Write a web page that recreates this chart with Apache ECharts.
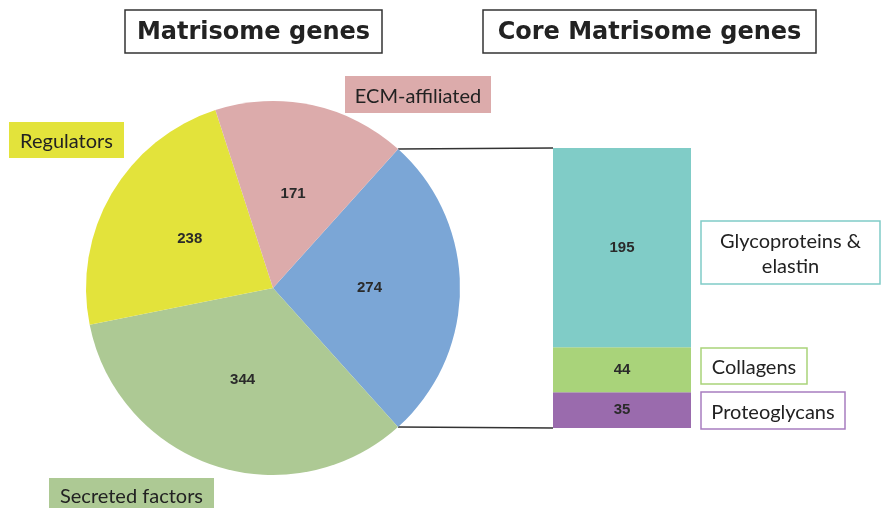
<!DOCTYPE html>
<html><head><meta charset="utf-8">
<script src="https://cdn.jsdelivr.net/npm/echarts@6/dist/echarts.min.js"></script>
<style>html,body{margin:0;padding:0;background:#fff}#c{width:881px;height:508px}</style>
</head><body><div id="c"></div>
<script>
// ---- data ----
const pieNames = ['Core matrisome', 'Secreted factors', 'Regulators', 'ECM-affiliated'];
const pieValues = [274, 344, 238, 171];
const barNames = ['Proteoglycans', 'Collagens', 'Glycoproteins & elastin'];
const barValues = [35, 44, 195];
const titles = ['Matrisome genes', 'Core Matrisome genes'];

// ---- styles ----
const pieColors = ['#7BA6D6', '#ADC994', '#E3E33B', '#DCABAB'];
const barColors = ['#9A6BAD', '#A9D37A', '#80CCC7'];
const barBorders = ['#A87DC0', '#A9D37A', '#80CCC7'];
const pieCenter = [273, 288], pieR = 187, startAngle = 48;
const gridL = 553, gridW = 138, gridTop = 148, gridBottom = 80;
const labelFont = 'Lato, "Open Sans", sans-serif';
const numFont = '"Liberation Sans", Arial, sans-serif';

const chart = echarts.init(document.getElementById('c'), null, {renderer: 'canvas'});
const total = barValues.reduce((a, b) => a + b, 0);

const numLabel = {show: true, position: 'inside', formatter: '{c}', color: '#2a2a2a',
  fontFamily: numFont, fontWeight: 'bold', fontSize: 15};

const barSeries = barValues.map((v, i) => ({
  type: 'bar', name: barNames[i], stack: 'core', data: [v],
  barWidth: '100%', itemStyle: {color: barColors[i]}, label: numLabel
}));

function box(x, y, w, h, fill, stroke, lines, fs, font, weight, lw, dy) {
  const els = [{type: 'rect', shape: {x: x, y: y, width: w, height: h},
    style: {fill: fill || '#fff', stroke: stroke || null, lineWidth: lw || 1.5}}];
  const lh = fs * 1.25;
  const y0 = y + h / 2 - (lines.length - 1) * lh / 2 + (dy || 0);
  lines.forEach((t, k) => els.push({type: 'text', x: x + w / 2, y: y0 + k * lh,
    style: {text: t, fill: '#222', font: (weight || 'normal') + ' ' + fs + 'px ' + font,
      align: 'center', verticalAlign: 'middle'}}));
  return els;
}

chart.setOption({
  animation: false,
  grid: {left: gridL, width: gridW, top: gridTop, bottom: gridBottom},
  xAxis: {type: 'category', data: ['Core'], show: false},
  yAxis: {type: 'value', min: 0, max: total, show: false},
  series: [{
    type: 'pie', center: pieCenter, radius: pieR, startAngle: startAngle, clockwise: true,
    data: pieValues.map((v, i) => ({name: pieNames[i], value: v, itemStyle: {color: pieColors[i]}})),
    label: numLabel, labelLine: {show: false}, emphasis: {disabled: true}
  }].concat(barSeries)
});

// connectors computed from pie geometry and bar axis
const a = startAngle * Math.PI / 180;
const blueAngle = pieValues[0] / pieValues.reduce((s, v) => s + v, 0) * 2 * Math.PI;
const pTop = [pieCenter[0] + pieR * Math.cos(a), pieCenter[1] - pieR * Math.sin(a)];
const a2 = a - blueAngle;
const pBot = [pieCenter[0] + pieR * Math.cos(a2), pieCenter[1] - pieR * Math.sin(a2)];
const yTop = chart.convertToPixel({yAxisIndex: 0}, total);
const yBot = chart.convertToPixel({yAxisIndex: 0}, 0);

let g = [];
g.push({type: 'line', shape: {x1: pTop[0], y1: pTop[1], x2: gridL, y2: yTop}, style: {stroke: '#333', lineWidth: 1.5}});
g.push({type: 'line', shape: {x1: pBot[0], y1: pBot[1], x2: gridL, y2: yBot}, style: {stroke: '#333', lineWidth: 1.5}});
g = g.concat(box(125, 10, 257, 43, '#fff', '#333', [titles[0]], 24, '"DejaVu Sans", sans-serif', 'bold', 1.5, 1));
g = g.concat(box(483, 10, 333, 43, '#fff', '#333', [titles[1]], 24, '"DejaVu Sans", sans-serif', 'bold', 1.5, 1));
g = g.concat(box(345, 76, 146, 37, pieColors[3], null, [pieNames[3]], 20, labelFont, null, 0, 2));
g = g.concat(box(9, 122, 115, 36, pieColors[2], null, [pieNames[2]], 20, labelFont, null, 0, 2));
g = g.concat(box(49, 478, 165, 34, pieColors[1], null, [pieNames[1]], 20, labelFont, null, 0, 2));
g = g.concat(box(701, 221, 179, 63, '#fff', barBorders[2], ['Glycoproteins &', 'elastin'], 20, labelFont, null, 1.5, 2));
g = g.concat(box(701, 348, 106, 36, '#fff', barBorders[1], [barNames[1]], 20, labelFont, null, 1.5, 2));
g = g.concat(box(701, 392, 144, 37, '#fff', barBorders[0], [barNames[0]], 20, labelFont, null, 1.5, 2));
chart.setOption({graphic: {elements: g}});
</script>
</body></html>
